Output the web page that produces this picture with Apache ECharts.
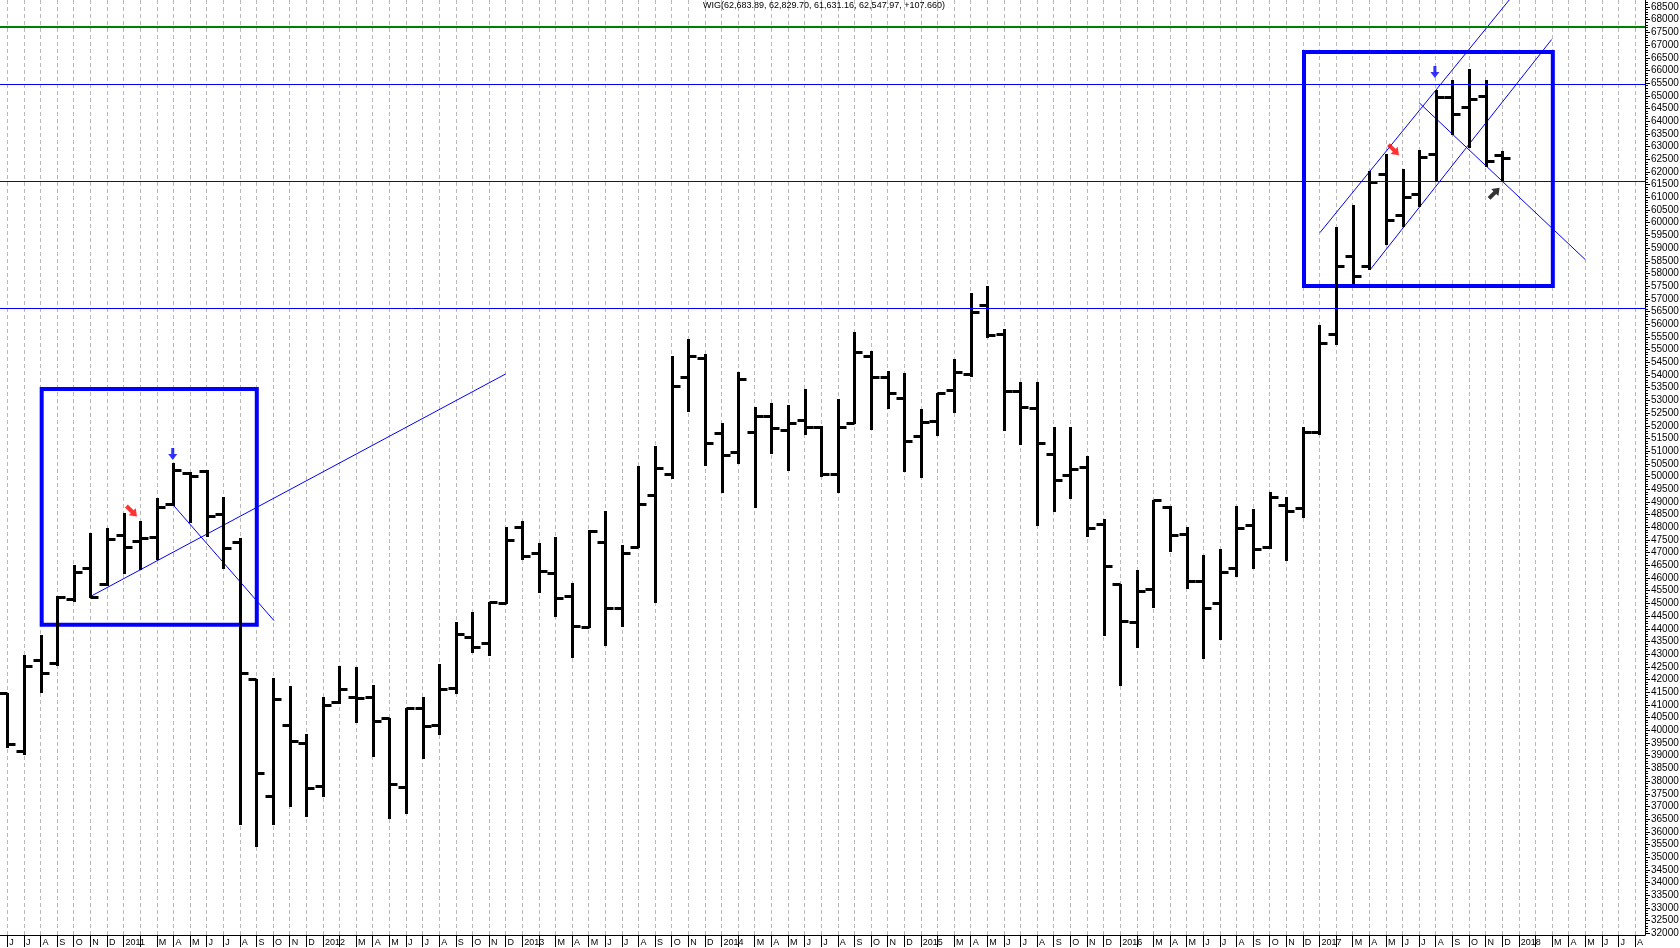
<!DOCTYPE html>
<html>
<head>
<meta charset="utf-8">
<title>WIG monthly</title>
<script src="https://cdn.jsdelivr.net/npm/echarts@6/dist/echarts.min.js"></script>
<style>
  html, body { margin: 0; padding: 0; background: #fff; }
  #chart { width: 1680px; height: 948px; }
</style>
</head>
<body>
<div id="chart"></div>
<script>
// month ticks, Jun 2010 .. Aug 2018 (Feb is left blank, the year label covers it)
const monthLabels = [
  'J', 'J', 'A', 'S', 'O', 'N', 'D',
  '2011', '', 'M', 'A', 'M', 'J', 'J', 'A', 'S', 'O', 'N', 'D',
  '2012', '', 'M', 'A', 'M', 'J', 'J', 'A', 'S', 'O', 'N', 'D',
  '2013', '', 'M', 'A', 'M', 'J', 'J', 'A', 'S', 'O', 'N', 'D',
  '2014', '', 'M', 'A', 'M', 'J', 'J', 'A', 'S', 'O', 'N', 'D',
  '2015', '', 'M', 'A', 'M', 'J', 'J', 'A', 'S', 'O', 'N', 'D',
  '2016', '', 'M', 'A', 'M', 'J', 'J', 'A', 'S', 'O', 'N', 'D',
  '2017', '', 'M', 'A', 'M', 'J', 'J', 'A', 'S', 'O', 'N', 'D',
  '2018', '', 'M', 'A', 'M', 'J', 'J', 'A'
]

// WIG monthly bars, Jun 2010 .. Dec 2017
const openValues = [
  41460, 39200, 42770, 42640, 45170, 46380, 45770,
  47700, 47470, 47630, 48920, 50130, 50230, 48520, 47410, 42020, 37410, 40210, 39510,
  37810, 41100, 41330, 41330, 40470, 37780, 40890, 40210, 41680, 43690, 43450, 45000,
  48000, 46970, 46210, 45310, 44080, 47410, 44810, 47240, 49270, 50100, 53910, 54660,
  51700, 50950, 51740, 52390, 51830, 52230, 51970, 50100, 52100, 54750, 53910, 53080,
  51610, 52200, 53410, 54030, 56760, 55620, 53370, 52690, 50890, 50060, 50360, 48120,
  45770, 44280, 45560, 48790, 47740, 45880, 45000, 46410, 48090, 47240, 48880, 48750,
  51770, 55600, 58690, 58300, 61920, 60310, 61130, 62700, 64940, 64550, 64990, 62683.89
]
const highValues = [
  41460, 42970, 43760, 45290, 46510, 47790, 47960,
  48580, 48260, 49140, 50550, 50190, 50260, 49180, 47560, 42020, 42050, 41750, 39860,
  41330, 42530, 42510, 41790, 40500, 40890, 41330, 42600, 44280, 44680, 45070, 48000,
  48260, 47370, 47600, 45790, 47890, 48640, 47300, 50410, 51200, 54760, 55410, 54830,
  52120, 54130, 52750, 52910, 52820, 53450, 51990, 53040, 55710, 54950, 54170, 54070,
  52650, 53310, 54620, 57250, 57510, 55800, 53740, 53710, 51940, 51960, 50820, 48330,
  45770, 46320, 49080, 48850, 48020, 46910, 47130, 48850, 48710, 49400, 49180, 51960,
  55970, 59850, 60700, 62050, 62710, 62100, 62870, 65230, 65620, 66040, 65620, 62829.70
]
const lowValues = [
  39320, 39030, 41460, 42530, 45070, 45200, 45690,
  46160, 46320, 46710, 48840, 48160, 47630, 46340, 36270, 35420, 36270, 36990, 36570,
  37390, 41040, 40300, 38940, 36490, 36690, 38870, 39820, 41420, 43030, 42930, 44980,
  46710, 45400, 44450, 42860, 44040, 43320, 44080, 47170, 45000, 49900, 52560, 50430,
  49340, 50490, 48750, 50890, 50230, 51640, 49970, 49340, 52070, 51830, 52650, 50190,
  49930, 51600, 52490, 53910, 55450, 51810, 51240, 48050, 48620, 49100, 47630, 43720,
  41760, 43230, 44830, 47010, 45560, 42810, 43560, 46050, 46340, 47140, 46670, 48350,
  51640, 55180, 57590, 58140, 59120, 59850, 60630, 61620, 63460, 62930, 62210, 61631.16
]
const closeValues = [
  39460, 42530, 42250, 45270, 46250, 45270, 47530,
  47210, 47560, 48790, 50260, 50030, 48440, 47170, 42270, 38330, 41220, 39580, 37710,
  41000, 41630, 41290, 40380, 37870, 40890, 40170, 41620, 43800, 43300, 45040, 47500,
  46880, 46290, 45200, 44120, 47850, 44810, 47000, 48920, 50320, 53580, 54750, 51310,
  50850, 53840, 52390, 51930, 52100, 51970, 50100, 51940, 54890, 53940, 53280, 51410,
  52140, 53310, 54130, 56500, 55580, 53370, 52750, 51310, 49860, 50280, 47960, 46490,
  44320, 45490, 49080, 47700, 45880, 44810, 46220, 47960, 47140, 49210, 48650, 51770,
  55270, 58300, 57910, 61620, 60110, 61030, 62580, 64940, 64280, 64860, 62450, 62547.97
]

const priceTicks = [
  32000, 32500, 33000, 33500, 34000, 34500, 35000, 35500, 36000, 36500,
  37000, 37500, 38000, 38500, 39000, 39500, 40000, 40500, 41000, 41500,
  42000, 42500, 43000, 43500, 44000, 44500, 45000, 45500, 46000, 46500,
  47000, 47500, 48000, 48500, 49000, 49500, 50000, 50500, 51000, 51500,
  52000, 52500, 53000, 53500, 54000, 54500, 55000, 55500, 56000, 56500,
  57000, 57500, 58000, 58500, 59000, 59500, 60000, 60500, 61000, 61500,
  62000, 62500, 63000, 63500, 64000, 64500, 65000, 65500, 66000, 66500,
  67000, 67500, 68000, 68500
]

const titleText = 'WIG(62,683.89, 62,829.70, 61,631.16, 62,547.97, +107.660)'

// drawn annotations (x = month index from Jun 2010, y = index level)
const supportLevels = [65470, 61650, 56630]
const resistanceLevel = 67740
const leftBox = [[2.07, 53450], [15.02, 44160]]
const rightBox = [[78.07, 66730], [93.05, 57510]]
const trendLines = [
  [[4.98, 45265], [30.0, 54040]],
  [[10.04, 48840], [16.06, 44320]],
  [[79.03, 59610], [91.0, 69240]],
  [[82.04, 58140], [92.98, 67220]],
  [[85.0, 64730], [95.0, 58550]]
]
const blueArrows = [[9.96, 50890], [85.95, 65940]]
const redArrows = [[7.49, 48630], [83.47, 62870]]
const blackArrows = [[89.53, 61170]]

const font = "'Liberation Sans', Arial, sans-serif"
const xMin = -0.44
const xMax = 98.6
const yMin = 31936
const yMax = 68776

const ohlcData = openValues.map((o, i) => [i, o, highValues[i], lowValues[i], closeValues[i]])
const monthTicks = monthLabels.map((_, i) => i)
// small ruler ticks every 100 between the labelled ones
const minorTicks = []
priceTicks.forEach(t => {
  for (let k = 1; k < 5; k++) minorTicks.push(t + k * 100)
})

function renderOhlc(params, api) {
  const x = api.value(0)
  const pO = api.coord([x, api.value(1)])
  const pH = api.coord([x, api.value(2)])
  const pL = api.coord([x, api.value(3)])
  const pC = api.coord([x, api.value(4)])
  const cx = Math.round(pH[0]) + 0.5
  const yo = Math.round(pO[1]) + 0.5
  const yc = Math.round(pC[1]) + 0.5
  const style = { stroke: '#000', lineWidth: 3 }
  return {
    type: 'group',
    children: [
      { type: 'line', shape: { x1: cx, y1: Math.round(pH[1]), x2: cx, y2: Math.round(pL[1]) }, style },
      { type: 'line', shape: { x1: cx - 8, y1: yo, x2: cx, y2: yo }, style },
      { type: 'line', shape: { x1: cx, y1: yc, x2: cx + 8, y2: yc }, style }
    ]
  }
}

const arrowUp = 'path://M5,0 L10,5 L7,5 L7,11 L3,11 L3,5 L0,5 Z'
const arrowDown = 'path://M3,0 L6,0 L6,6 L9,6 L4.5,12 L0,6 L3,6 Z'

const arrowData = []
blueArrows.forEach(p => arrowData.push({
  value: p, symbol: arrowDown, symbolSize: [9, 12], itemStyle: { color: '#0000ff' }
}))
redArrows.forEach(p => arrowData.push({
  value: p, symbol: arrowUp, symbolSize: [10, 15], symbolRotate: -135, itemStyle: { color: '#ff0000' }
}))
blackArrows.forEach(p => arrowData.push({
  value: p, symbol: arrowUp, symbolSize: [10, 15], symbolRotate: -45, itemStyle: { color: '#000' }
}))

const thinBlue = { color: '#0000ff', width: 1, type: 'solid' }

const trendSeries = trendLines.map((seg, k) => ({
  type: 'line',
  data: seg,
  symbol: 'none',
  silent: true,
  lineStyle: thinBlue,
  z: 3,
  markLine: k === 0 ? {
    silent: true,
    symbol: 'none',
    label: { show: false },
    data: supportLevels.map(v => ({ yAxis: v, lineStyle: thinBlue }))
      .concat([{ yAxis: resistanceLevel, lineStyle: { color: '#008000', width: 2, type: 'solid' } }])
  } : undefined,
  markArea: k === 0 ? {
    silent: true,
    itemStyle: { color: 'rgba(0,0,0,0)', borderColor: '#0000ff', borderWidth: 4 },
    data: [
      [{ coord: leftBox[0] }, { coord: leftBox[1] }],
      [{ coord: rightBox[0] }, { coord: rightBox[1] }]
    ]
  } : undefined
}))

const gridBox = { left: 0, right: 35, top: 0, bottom: 13, containLabel: false, outerBoundsMode: 'none' }

const chart = echarts.init(document.getElementById('chart'))
chart.setOption({
  animation: false,
  backgroundColor: '#fff',
  title: {
    text: titleText,
    left: 703,
    top: 1,
    padding: 0,
    textStyle: { fontFamily: font, fontSize: 9, fontWeight: 'normal', color: '#000' }
  },
  grid: [Object.assign({}, gridBox), Object.assign({}, gridBox)],
  xAxis: [{
    type: 'value',
    gridIndex: 0,
    min: xMin,
    max: xMax,
    axisLine: { show: true, onZero: false, lineStyle: { color: '#000', width: 1 } },
    axisTick: {
      show: true, inside: false, length: 12,
      customValues: monthTicks,
      lineStyle: { color: '#000' }
    },
    axisLabel: {
      show: true,
      customValues: monthTicks,
      formatter: v => monthLabels[Math.round(v)] || '',
      align: 'left',
      margin: 3,
      padding: [0, 0, 0, 2],
      fontFamily: font,
      fontSize: 9,
      color: '#000'
    },
    splitLine: {
      show: true,
      lineStyle: { color: '#b8b8b8', width: 1, type: [4, 3] }
    }
  }, {
    type: 'value',
    gridIndex: 1,
    min: xMin,
    max: xMax,
    show: false
  }],
  yAxis: [{
    type: 'value',
    gridIndex: 0,
    position: 'right',
    min: yMin,
    max: yMax,
    axisLine: { show: true, onZero: false, lineStyle: { color: '#000', width: 1 } },
    axisTick: {
      show: true, inside: false, length: 5,
      customValues: priceTicks,
      lineStyle: { color: '#000' }
    },
    axisLabel: {
      show: true,
      customValues: priceTicks,
      formatter: v => String(v),
      margin: 6,
      fontFamily: font,
      fontSize: 10,
      color: '#000'
    },
    splitLine: { show: false }
  }, {
    type: 'value',
    gridIndex: 1,
    position: 'right',
    min: yMin,
    max: yMax,
    axisLine: { show: false, onZero: false },
    axisTick: {
      show: true, inside: false, length: 3,
      customValues: minorTicks,
      lineStyle: { color: '#000' }
    },
    axisLabel: { show: false },
    splitLine: { show: false }
  }],
  series: [{
    type: 'custom',
    name: 'WIG',
    data: ohlcData,
    encode: { x: 0, y: [1, 2, 3, 4] },
    renderItem: renderOhlc,
    clip: true,
    z: 4
  }].concat(trendSeries).concat([{
    type: 'scatter',
    data: arrowData,
    silent: true,
    z: 5
  }])
})
</script>
</body>
</html>
